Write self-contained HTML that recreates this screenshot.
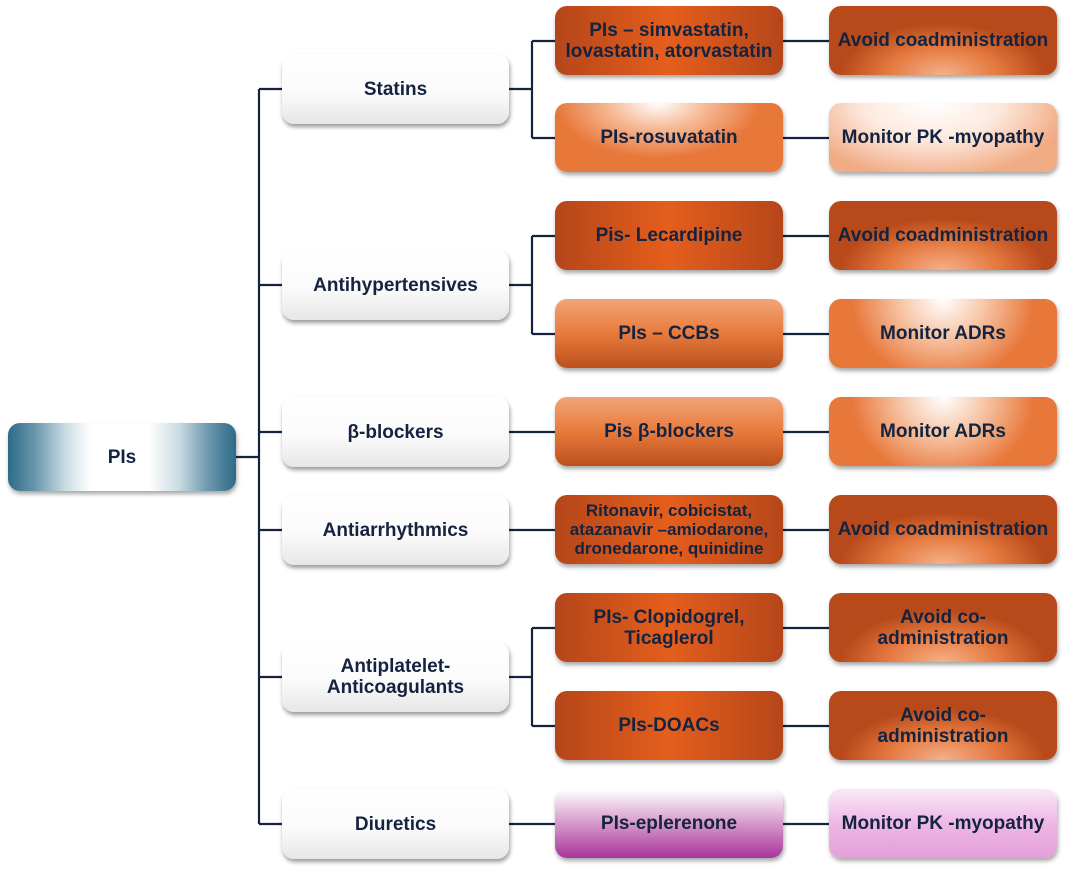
<!DOCTYPE html>
<html><head><meta charset="utf-8"><style>
html,body{margin:0;padding:0;background:#fff;}
body{width:1065px;height:870px;position:relative;overflow:hidden;font-family:"Liberation Sans",Arial,sans-serif;}
.b{position:absolute;border-radius:12px;display:flex;align-items:center;justify-content:center;text-align:center;font-weight:bold;font-size:19px;line-height:21px;color:#14233f;box-shadow:1px 3px 4px rgba(0,0,0,0.35);box-sizing:border-box;white-space:nowrap;}
.w{background:linear-gradient(#ffffff 0%,#fbfbfb 55%,#e6e6e6 100%);box-shadow:1px 3px 4px rgba(0,0,0,0.4);}
.root{background:linear-gradient(90deg,#2d6b88 0%,#6b97ac 12%,#c9dbe3 25%,#fff 36%,#fff 62%,#c9dbe3 75%,#6b97ac 88%,#2d6b88 100%);}
.dk{background:linear-gradient(90deg,#b5461a 0%,#e55e1c 50%,#b5461a 100%);}
.av{background:radial-gradient(ellipse 45% 75% at 50% 100%,#f5b08a 0%,#e4783e 55%,#b8491a 100%),#b8491a;}
.md{background:radial-gradient(ellipse 45% 80% at 45% 0%,#fff 0%,#f6bc99 45%,#e8773a 100%);}
.lt{background:radial-gradient(ellipse 60% 110% at 45% 0%,#fff 0%,#fde9dd 50%,#f1ab84 100%);}
.vg{background:linear-gradient(#f2a577 0%,#e87a3c 50%,#bb501c 100%);}
.ma{background:radial-gradient(ellipse 40% 120% at 50% 0%,#fff 0%,#f7c7a9 45%,#e8773a 100%);}
.pu{background:linear-gradient(#fff 0%,#d9a2cf 45%,#a8359a 100%);}
.pl{background:linear-gradient(#faeaf6 0%,#eeb7e4 50%,#e49fd9 100%);}
</style></head><body>
<svg width="1065" height="870" style="position:absolute;left:0;top:0" fill="none" stroke="#15233f" stroke-width="2.2">
<path d="M236 457H259M259 89V824M259 89H282M259 285H282M259 432H282M259 530H282M259 677H282M259 824H282"/>
<path d="M509 89H532M532 41V138M532 41H555M532 138H555"/>
<path d="M509 285H532M532 236V334M532 236H555M532 334H555"/>
<path d="M509 432H555M509 530H555M509 824H555"/>
<path d="M509 677H532M532 628V726M532 628H555M532 726H555"/>
<path d="M783 41H829M783 138H829M783 236H829M783 334H829M783 432H829M783 530H829M783 628H829M783 726H829M783 824H829"/>
</svg>
<div class="b root" style="left:8px;top:423px;width:228px;height:68px;">PIs</div>
<div class="b w" style="left:282px;top:54px;width:227px;height:70px;">Statins</div>
<div class="b w" style="left:282px;top:250px;width:227px;height:70px;">Antihypertensives</div>
<div class="b w" style="left:282px;top:397px;width:227px;height:70px;">β-blockers</div>
<div class="b w" style="left:282px;top:495px;width:227px;height:70px;">Antiarrhythmics</div>
<div class="b w" style="left:282px;top:642px;width:227px;height:70px;">Antiplatelet-<br>Anticoagulants</div>
<div class="b w" style="left:282px;top:789px;width:227px;height:70px;">Diuretics</div>

<div class="b dk" style="left:555px;top:6px;width:228px;height:69px;">PIs – simvastatin,<br>lovastatin, atorvastatin</div>
<div class="b md" style="left:555px;top:103px;width:228px;height:69px;">PIs-rosuvatatin</div>
<div class="b dk" style="left:555px;top:201px;width:228px;height:69px;">Pis- Lecardipine</div>
<div class="b vg" style="left:555px;top:299px;width:228px;height:69px;">PIs – CCBs</div>
<div class="b vg" style="left:555px;top:397px;width:228px;height:69px;">Pis β-blockers</div>
<div class="b dk" style="left:555px;top:495px;width:228px;height:69px;font-size:17px;line-height:19px;">Ritonavir, cobicistat,<br>atazanavir –amiodarone,<br>dronedarone, quinidine</div>
<div class="b dk" style="left:555px;top:593px;width:228px;height:69px;">PIs- Clopidogrel,<br>Ticaglerol</div>
<div class="b dk" style="left:555px;top:691px;width:228px;height:69px;">PIs-DOACs</div>
<div class="b pu" style="left:555px;top:789px;width:228px;height:69px;">PIs-eplerenone</div>

<div class="b av" style="left:829px;top:6px;width:228px;height:69px;">Avoid coadministration</div>
<div class="b lt" style="left:829px;top:103px;width:228px;height:69px;">Monitor PK -myopathy</div>
<div class="b av" style="left:829px;top:201px;width:228px;height:69px;">Avoid coadministration</div>
<div class="b ma" style="left:829px;top:299px;width:228px;height:69px;">Monitor ADRs</div>
<div class="b ma" style="left:829px;top:397px;width:228px;height:69px;">Monitor ADRs</div>
<div class="b av" style="left:829px;top:495px;width:228px;height:69px;">Avoid coadministration</div>
<div class="b av" style="left:829px;top:593px;width:228px;height:69px;">Avoid co-<br>administration</div>
<div class="b av" style="left:829px;top:691px;width:228px;height:69px;">Avoid co-<br>administration</div>
<div class="b pl" style="left:829px;top:789px;width:228px;height:69px;">Monitor PK -myopathy</div>
</body></html>
